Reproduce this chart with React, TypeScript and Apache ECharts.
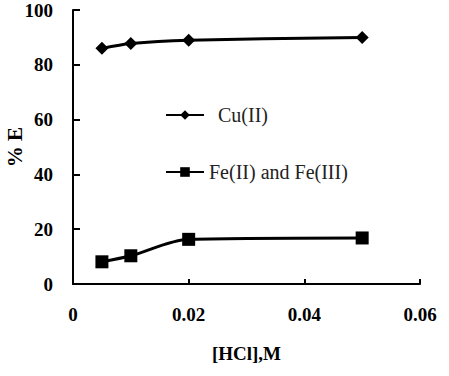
import React, { useEffect, useRef } from "react";
import * as echarts from "echarts";

const hclConc = [0.005, 0.01, 0.02, 0.05];
const cuValues = [86.0, 87.8, 89.0, 90.0];
const feValues = [8.1, 10.3, 16.3, 16.8];
const seriesNames = ["Cu(II)", "Fe(II) and Fe(III)"];
const xTicks = [0, 0.02, 0.04, 0.06];
const yTicks = [0, 20, 40, 60, 80, 100];

const FONT = "'Liberation Serif', 'Times New Roman', 'DejaVu Serif', serif";

export default function App() {
  const ref = useRef<HTMLDivElement>(null);
  useEffect(() => {
    if (!ref.current) return;
    const chart = echarts.init(ref.current, undefined, { renderer: "svg" });
    const axisLabel = {
      color: "#000",
      fontFamily: FONT,
      fontWeight: "bold" as const,
      fontSize: 19,
    };
    chart.setOption({
      animation: false,
      backgroundColor: "#fff",
      grid: {
        left: 73,
        right: 29,
        top: 10,
        bottom: 92,
        containLabel: false,
        outerBoundsMode: "none",
      },
      legend: [
        {
          data: [seriesNames[0]],
          left: 160,
          top: 100,
          itemWidth: 38,
          itemHeight: 12,
          textStyle: {
            fontFamily: FONT,
            fontSize: 20,
            color: "#222",
            padding: [0, 0, 0, 9],
          },
        },
        {
          data: [seriesNames[1]],
          left: 160,
          top: 157,
          itemWidth: 38,
          itemHeight: 12,
          textStyle: { fontFamily: FONT, fontSize: 20, color: "#222" },
        },
      ],
      xAxis: {
        type: "value",
        min: xTicks[0],
        max: xTicks[xTicks.length - 1],
        interval: 0.02,
        name: "[HCl],M",
        nameLocation: "middle",
        nameGap: 60,
        nameMoveOverlap: false,
        nameTextStyle: { ...axisLabel, fontSize: 19 },
        axisLine: { show: true, lineStyle: { color: "#000", width: 2 } },
        axisTick: { show: true, inside: true, length: 5, lineStyle: { color: "#000", width: 2 } },
        splitLine: { show: false },
        axisLabel: {
          ...axisLabel,
          margin: 21,
          formatter: (v: number) => (v === 0 ? "0" : v.toFixed(2)),
        },
      },
      yAxis: {
        type: "value",
        min: yTicks[0],
        max: yTicks[yTicks.length - 1],
        interval: 20,
        name: "% E",
        nameLocation: "middle",
        nameGap: 49,
        nameMoveOverlap: false,
        nameTextStyle: { ...axisLabel, fontSize: 21, lineHeight: 19 },
        axisLine: { show: true, lineStyle: { color: "#000", width: 2 } },
        axisTick: { show: true, inside: true, length: 7, lineStyle: { color: "#000", width: 2 } },
        splitLine: { show: false },
        axisLabel: { ...axisLabel, margin: 20 },
      },
      series: [
        {
          name: seriesNames[0],
          type: "line",
          smooth: 0.3,
          data: hclConc.map((x, i) => [x, cuValues[i]]),
          symbol: "diamond",
          symbolSize: 13,
          lineStyle: { color: "#000", width: 3 },
          itemStyle: { color: "#000" },
        },
        {
          name: seriesNames[1],
          type: "line",
          smooth: 0.3,
          data: hclConc.map((x, i) => [x, feValues[i]]),
          symbol: "rect",
          symbolSize: 13,
          lineStyle: { color: "#000", width: 3 },
          itemStyle: { color: "#000" },
        },
      ],
    });
    return () => chart.dispose();
  }, []);
  return (
    <div
      ref={ref}
      style={{ position: "fixed", left: 0, top: 0, width: 449, height: 376, background: "#fff" }}
    />
  );
}
